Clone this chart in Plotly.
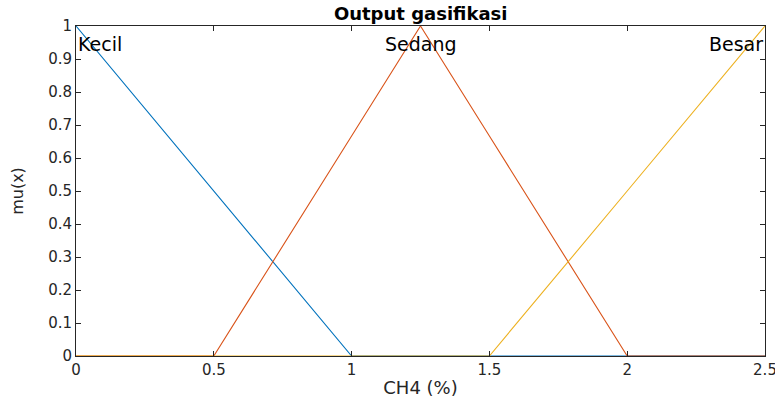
import plotly.graph_objects as go

x_pts = [0, 0.5, 1, 1.25, 1.5, 2, 2.5]
kecil = [1, 0.5, 0, 0, 0, 0, 0]
sedang = [0, 0, 2/3, 1, 2/3, 0, 0]
besar = [0, 0, 0, 0, 0, 0.5, 1]
mf_names = ["Kecil", "Sedang", "Besar"]
mf_label_x = [0, 1.25, 2.5]
mf_label_y = [0.945, 0.945, 0.945]
mf_label_anchor = ["left", "center", "right"]
colors = ["#0072BD", "#D95319", "#EDB120"]
x_ticks = [0, 0.5, 1, 1.5, 2, 2.5]
x_ticklabels = ["0", "0.5", "1", "1.5", "2", "2.5"]
y_ticks = [0, 0.1, 0.2, 0.3, 0.4, 0.5, 0.6, 0.7, 0.8, 0.9, 1]
y_ticklabels = ["0", "0.1", "0.2", "0.3", "0.4", "0.5", "0.6", "0.7", "0.8", "0.9", "1"]

fig = go.Figure()
for name, ys, c in zip(mf_names, [kecil, sedang, besar], colors):
    fig.add_trace(go.Scatter(x=x_pts, y=ys, mode="lines", name=name,
                             line=dict(color=c, width=1.1), showlegend=False,
                             cliponaxis=False))

for name, lx, ly, anc in zip(mf_names, mf_label_x, mf_label_y, mf_label_anchor):
    fig.add_annotation(x=lx, y=ly, text=name, showarrow=False, xanchor=anc,
                       yanchor="middle", font=dict(family="DejaVu Sans", size=19, color="black"))

axis_common = dict(showgrid=False, zeroline=False, ticks="inside", ticklen=5,
                   tickcolor="#262626", showline=True, linecolor="#262626",
                   linewidth=1, mirror="ticks", automargin=False,
                   ticklabeloverflow="allow",
                   tickfont=dict(family="DejaVu Sans", size=15, color="#262626"))

fig.update_layout(
    width=775, height=398,
    margin=dict(l=76, r=10, t=26, b=42),
    plot_bgcolor="white", paper_bgcolor="white",
    title=dict(text="<b>Output gasifikasi</b>", x=0.5428, xanchor="center",
               y=0.965, yanchor="middle",
               font=dict(family="DejaVu Sans", size=18, color="black")),
    xaxis=dict(range=[0, 2.50001], tickvals=x_ticks, ticktext=x_ticklabels,
               title=dict(text="CH4 (%)", standoff=4,
                          font=dict(family="DejaVu Sans", size=18, color="#262626")),
               **axis_common),
    yaxis=dict(range=[0, 1.00001], tickvals=y_ticks, ticktext=y_ticklabels,
               title=dict(text="mu(x)", standoff=20,
                          font=dict(family="DejaVu Sans", size=16, color="#262626")),
               **axis_common),
)

fig.write_html("out.html")
